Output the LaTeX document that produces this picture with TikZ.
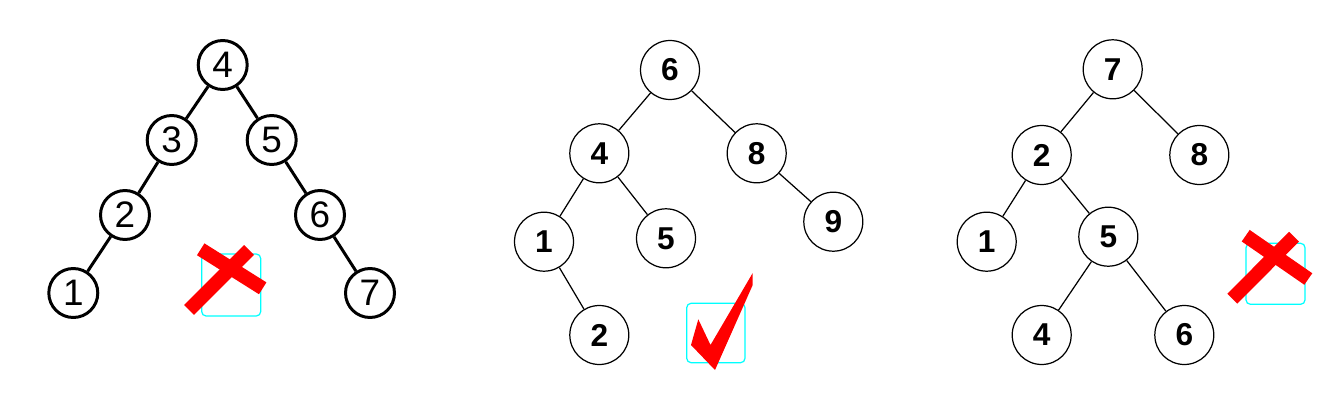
\documentclass[tikz,border=0pt]{standalone}
\usepackage{fontspec}
\setmainfont{Liberation Sans}
\usepackage{tikz, xcolor}
\usetikzlibrary{shapes,arrows}
\definecolor{boxcyan}{RGB}{0,255,255}
\definecolor{markred}{RGB}{255,0,0}

\begin{document}
\begin{tikzpicture}[x=0.02cm, y=-0.02cm]
\tikzstyle{vertexa}=[circle, draw=black, line width=1.7pt, minimum size=0.98cm, inner sep=0pt, font=\fontsize{21}{24}\selectfont]
\tikzstyle{vertexb}=[circle, draw=black, line width=0.7pt, minimum size=1.18cm, inner sep=0pt, font=\fontsize{18}{20}\selectfont\bfseries]
\tikzstyle{edgea}=[line width=1.7pt]
\tikzstyle{edgeb}=[line width=0.7pt]
\tikzstyle{markbox}=[draw=boxcyan, line width=0.7pt, rounded corners=2.5pt]
\tikzstyle{crossbar}=[draw=markred, line width=0.28cm]

\useasboundingbox (0,0) rectangle (1335,402);

\node[vertexa] (A4) at (222.7,65) {4};
\node[vertexa] (A3) at (171.7,140) {3};
\node[vertexa] (A5) at (271.7,140) {5};
\node[vertexa] (A2) at (125,215) {2};
\node[vertexa] (A6) at (320,215) {6};
\node[vertexa] (A1) at (73.3,293) {1};
\node[vertexa] (A7) at (370,293) {7};
\draw[edgea] (A4) -- (A3);
\draw[edgea] (A4) -- (A5);
\draw[edgea] (A3) -- (A2);
\draw[edgea] (A2) -- (A1);
\draw[edgea] (A5) -- (A6);
\draw[edgea] (A6) -- (A7);
\draw[markbox] (201.7,254) rectangle (260.7,316);
\draw[crossbar] (189,310) -- (249,250);
\draw[crossbar] (200.7,249.3) -- (262.7,288.3);

\node[vertexb] (B6) at (670,70) {6};
\node[vertexb] (B4) at (599.3,153.3) {4};
\node[vertexb] (B8) at (756.7,153.3) {8};
\node[vertexb] (B1) at (544,241.7) {1};
\node[vertexb] (B5) at (666,238.3) {5};
\node[vertexb] (B9) at (833.3,221.7) {9};
\node[vertexb] (B2) at (599.3,335) {2};
\draw[edgeb] (B6) -- (B4);
\draw[edgeb] (B6) -- (B8);
\draw[edgeb] (B4) -- (B1);
\draw[edgeb] (B4) -- (B5);
\draw[edgeb] (B1) -- (B2);
\draw[edgeb] (B8) -- (B9);
\draw[markbox] (686.7,303.3) rectangle (745,362.7);
\fill[markred] (691,345) -- (698.3,319.3) -- (710.5,345) -- (752.7,273) -- (752.7,285) -- (715,370) -- cycle;

\node[vertexb] (C7) at (1112.7,69.3) {7};
\node[vertexb] (C2) at (1041.7,155) {2};
\node[vertexb] (C8) at (1199.3,155) {8};
\node[vertexb] (C1) at (986.7,241.7) {1};
\node[vertexb] (C5) at (1108.3,236.7) {5};
\node[vertexb] (C4) at (1041.7,335) {4};
\node[vertexb] (C6) at (1184.3,335) {6};
\draw[edgeb] (C7) -- (C2);
\draw[edgeb] (C7) -- (C8);
\draw[edgeb] (C2) -- (C1);
\draw[edgeb] (C2) -- (C5);
\draw[edgeb] (C5) -- (C4);
\draw[edgeb] (C5) -- (C6);
\draw[markbox] (1246,243.3) rectangle (1305,304.3);
\draw[crossbar] (1232.3,298.7) -- (1294,236.7);
\draw[crossbar] (1245.7,235.7) -- (1308.3,279);
\end{tikzpicture}
\end{document}
